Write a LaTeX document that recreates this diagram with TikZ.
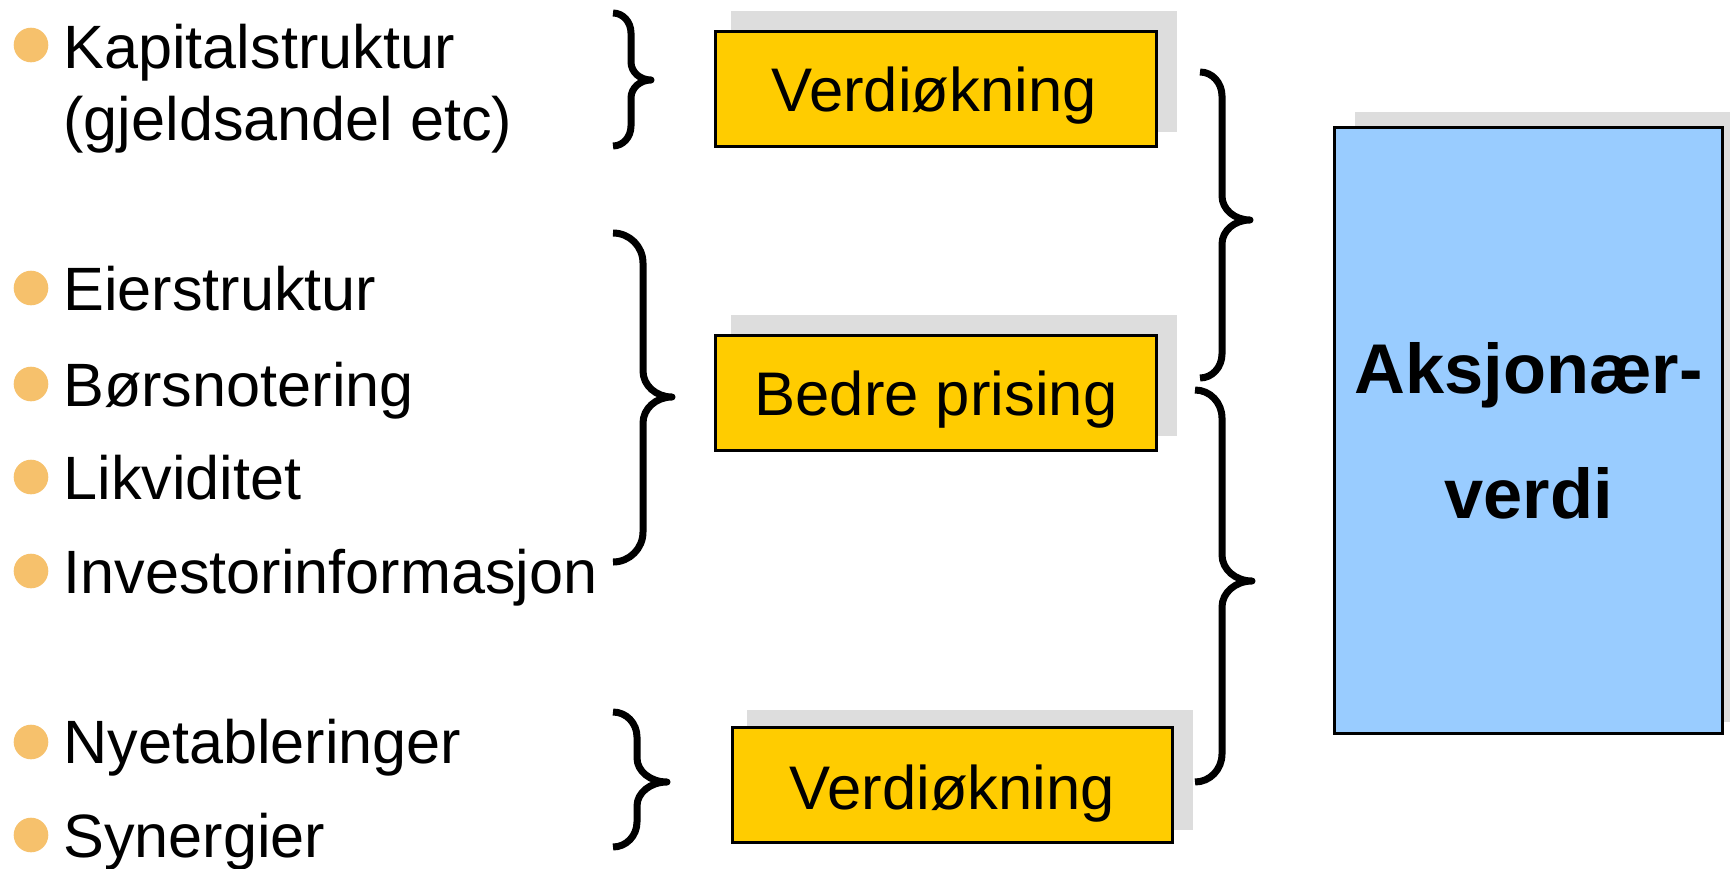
\documentclass[tikz,border=0pt]{standalone}
\usepackage{fontspec}
\setmainfont{Liberation Sans}
\definecolor{boxyellow}{HTML}{FFCC00}
\definecolor{boxblue}{HTML}{99CCFF}
\definecolor{shadowgray}{HTML}{DDDDDD}
\definecolor{bulletorange}{HTML}{F6C16C}
\newcommand\curlybrace[8]{% x0 xv xt y0 ym y1 re rt
  \draw[bracestroke] (#1,#4) .. controls (#1+0.552*#2-0.552*#1,#4) and (#2,#4+0.448*#7) .. (#2,#4+#7)
    -- (#2,#5-#8) .. controls (#2,#5-0.448*#8) and (#3-0.552*#3+0.552*#2,#5) .. (#3,#5)
    .. controls (#3-0.552*#3+0.552*#2,#5) and (#2,#5+0.448*#8) .. (#2,#5+#8)
    -- (#2,#6-#7) .. controls (#2,#6-0.448*#7) and (#1+0.552*#2-0.552*#1,#6) .. (#1,#6);}
\begin{document}
\begin{tikzpicture}[x=0.5pt,y=-0.5pt,
  item/.style={anchor=base west, inner sep=0pt, font=\fontsize{30.6}{36}\selectfont},
  bullet/.style={circle, fill=bulletorange, minimum size=17.3pt, inner sep=0pt},
  ybox/.style={draw=black, line width=1.4pt, fill=boxyellow, inner sep=0pt},
  bbox/.style={draw=black, line width=1.4pt, fill=boxblue, inner sep=0pt},
  shadowbox/.style={fill=shadowgray},
  boxlabel/.style={anchor=base, inner sep=0pt, font=\fontsize{30.8}{36}\selectfont},
  biglabel/.style={anchor=base, inner sep=0pt, font=\fontsize{35.2}{42}\selectfont\bfseries},
  bracestroke/.style={line width=3.5pt, line join=round}]
\fill[white] (0,0) rectangle (1730,868);
\useasboundingbox (0,0) rectangle (1730,868);

% left list
\node[bullet] (u1) at (31,45) {};
\node[item] (t1) at (63,68) {Kapitalstruktur};
\node[item] (t1b) at (63,140) {(gjeldsandel etc)};
\node[bullet] (u2) at (31,288) {};
\node[item] (t2) at (63,310) {Eierstruktur};
\node[bullet] (u3) at (31,384) {};
\node[item] (t3) at (63,406) {Børsnotering};
\node[bullet] (u4) at (31,477) {};
\node[item] (t4) at (63,499) {Likviditet};
\node[bullet] (u5) at (31,571) {};
\node[item] (t5) at (63,593) {Investorinformasjon};
\node[bullet] (u6) at (31,742) {};
\node[item] (t6) at (63,763) {Nyetableringer};
\node[bullet] (u7) at (31,835) {};
\node[item] (t7) at (63,857) {Synergier};

% shadows
\fill[shadowbox] (731,11) rectangle (1177,132);
\fill[shadowbox] (731,315) rectangle (1177,436);
\fill[shadowbox] (747,710) rectangle (1193,830);
\fill[shadowbox] (1355,112) rectangle (1730,722);

% boxes
\node[ybox, minimum width=220.5pt, minimum height=57.5pt] (b1) at (936,89) {};
\node[boxlabel] (l1) at (934,111) {Verdiøkning};
\node[ybox, minimum width=220.5pt, minimum height=57.5pt] (b2) at (936,393) {};
\node[boxlabel] (l2) at (936,415) {Bedre prising};
\node[ybox, minimum width=220pt, minimum height=57.5pt] (b3) at (952.5,785) {};
\node[boxlabel] (l3) at (952.5,809) {Verdiøkning};
\node[bbox, minimum width=194pt, minimum height=303pt] (sv) at (1528.5,430.5) {};
\node[biglabel] (s1) at (1528.5,393) {Aksjonær-};
\node[biglabel] (s2) at (1528.5,518) {verdi};

% braces
\curlybrace{613}{631}{651}{13}{80}{146}{20}{18}
\curlybrace{613}{643}{672}{233}{397}{562}{30}{26}
\curlybrace{613}{637}{667}{712}{782}{847}{25}{24}
\curlybrace{1200}{1222}{1250}{72}{220}{378}{24}{24}
\curlybrace{1195}{1222}{1252}{390}{581}{782}{28}{26}
\end{tikzpicture}
\end{document}
